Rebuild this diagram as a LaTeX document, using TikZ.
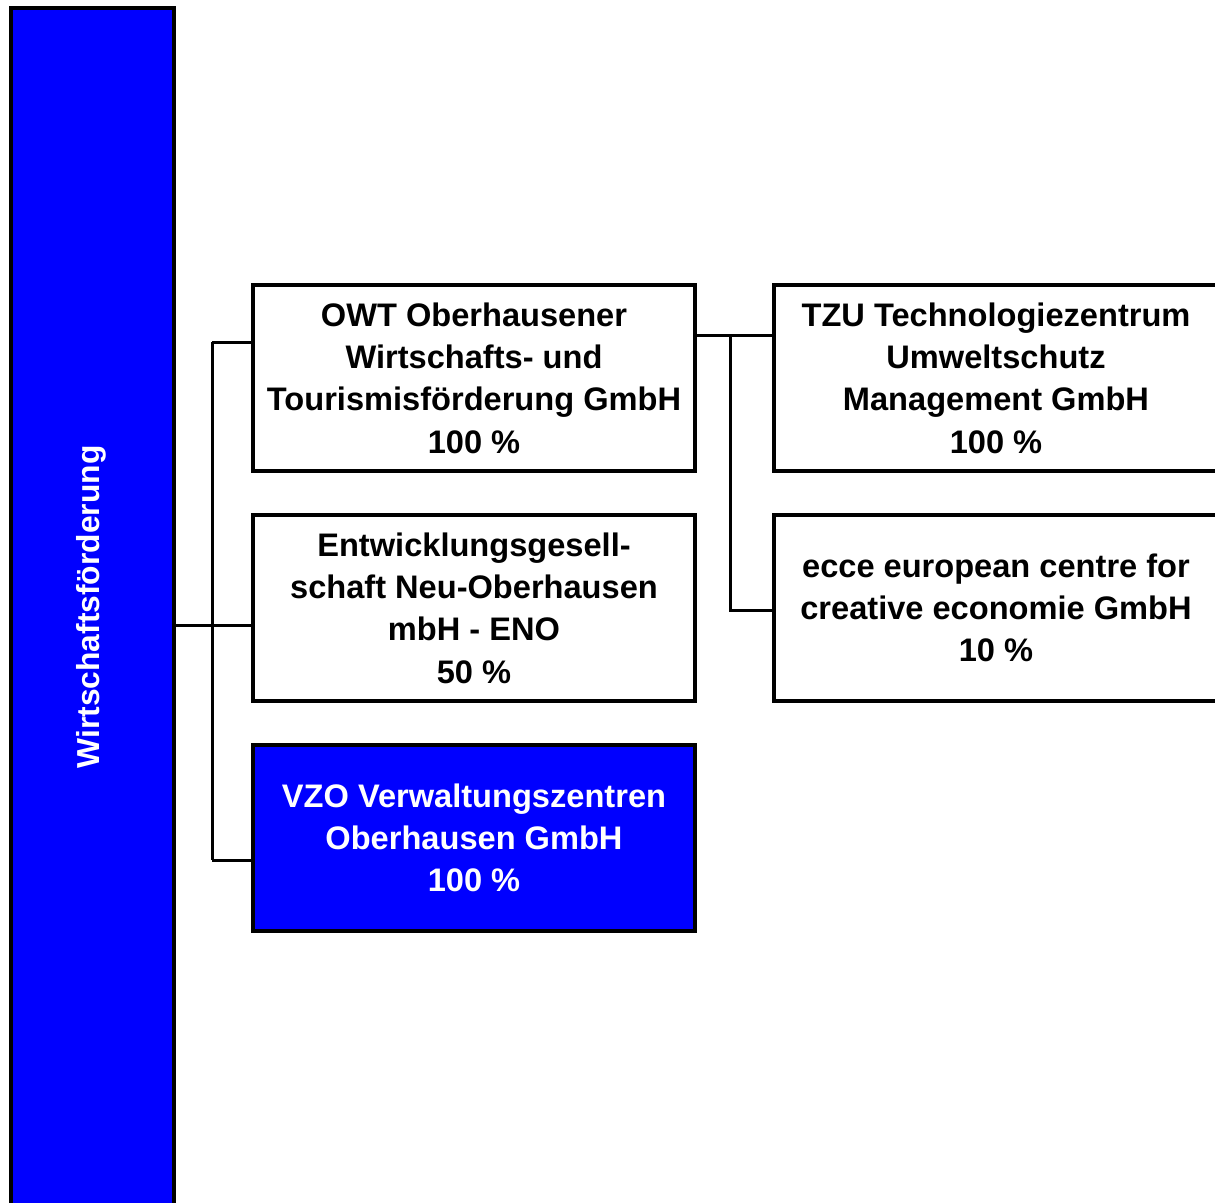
\documentclass[tikz,border=0pt]{standalone}
\usepackage{fontspec}
\setmainfont{Liberation Sans}
\usepackage{xcolor}
\usepackage{tikz}
\definecolor{amtblau}{HTML}{0000FF}

\tikzset{
    firma/.style={draw=black, line width=4pt, fill=white, minimum width=442pt, minimum height=186pt,
        inner sep=0pt, align=center, font=\bfseries\fontsize{32.6}{42.3}\selectfont},
    linie/.style={draw=black, line width=3pt}
}

\begin{document}
\begin{tikzpicture}[x=1pt, y=-1pt]
    \useasboundingbox (0,0) rectangle (1215,1202);

    % Left bar
    \filldraw[fill=amtblau, line width=4pt] (11,1215) -- (11,8) -- (174,8) -- (174,1215);
    \node[rotate=90, text=white, font=\bfseries\fontsize{31.8}{38}\selectfont] (wf) at (91,607) {Wirtschaftsförderung};
    \coordinate (bar) at (176,625);

    % Companies
    \node[firma] (owt) at (474,378) {OWT Oberhausener\\Wirtschafts- und\\Tourismisförderung GmbH\\100 \%};
    \node[firma] (eno) at (474,608) {Entwicklungsgesell-\\schaft Neu-Oberhausen\\mbH - ENO\\50 \%};
    \node[firma, fill=amtblau, text=white] (vzo) at (474,838) {VZO Verwaltungszentren\\Oberhausen GmbH\\100 \%};
    \node[firma, minimum width=444pt] (tzu) at (996,378) {TZU Technologiezentrum\\Umweltschutz\\Management GmbH\\100 \%};
    \node[firma, minimum width=444pt] (ecce) at (996,608) {ecce european centre for\\creative economie GmbH\\10 \%};

    % Left bracket
    \coordinate (l1) at (212,342);
    \coordinate (l2) at (212,625);
    \coordinate (l3) at (212,860);
    \draw[linie] (l1) -- (l3);
    \draw[linie] (l1) -- (l1 -| owt.west);
    \draw[linie] (bar) -- (bar -| eno.west);
    \draw[linie] (l3) -- (l3 -| vzo.west);

    % Right bracket
    \coordinate (r1) at (730,335);
    \coordinate (r2) at (730,610);
    \draw[linie] (r1 -| owt.east) -- (r1 -| tzu.west);
    \draw[linie] (r1) -- (r2) -- (r2 -| ecce.west);
\end{tikzpicture}
\end{document}
